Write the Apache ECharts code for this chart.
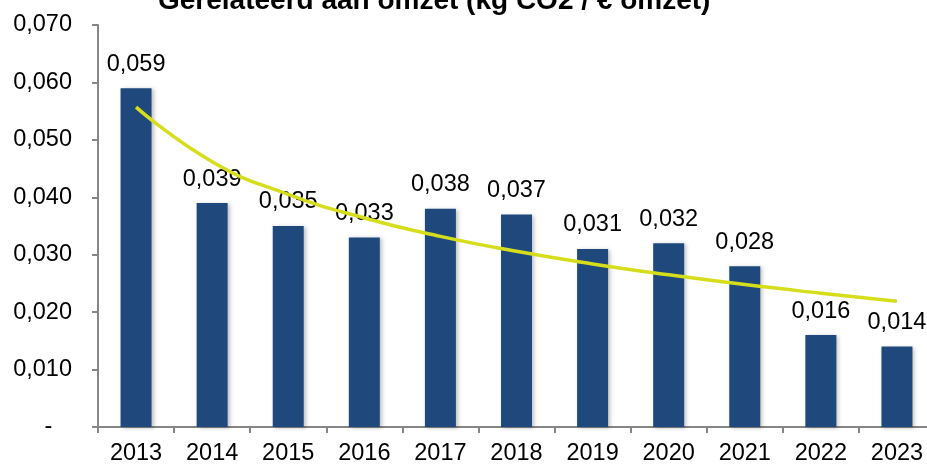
<!DOCTYPE html>
<html>
<head>
<meta charset="utf-8">
<script src="https://cdn.jsdelivr.net/npm/echarts@6/dist/echarts.min.js"></script>
<style>
  html, body { margin: 0; padding: 0; background: #fff; }
  #chart { width: 927px; height: 464px; }
</style>
</head>
<body>
<div id="chart"></div>
<script>
// jaren en CO2-intensiteit (kg CO2 / € omzet)
const years = ['2013', '2014', '2015', '2016', '2017', '2018', '2019', '2020', '2021', '2022', '2023']
const intensity = [0.059, 0.039, 0.035, 0.033, 0.038, 0.037, 0.031, 0.032, 0.028, 0.016, 0.014]
// trendlijn
const trend = [0.0557, 0.0462, 0.0405, 0.0364, 0.0332, 0.0306, 0.0284, 0.0265, 0.0248, 0.0233, 0.0219]

const fmt = v => v.toFixed(3).replace('.', ',')
const font = 'Liberation Sans, Arial, sans-serif'

const chart = echarts.init(document.getElementById('chart'))
chart.setOption({
  animation: false,
  title: {
    text: 'Gerelateerd aan omzet (kg CO2 / € omzet)',
    left: 153,
    top: -18,
    textStyle: { fontFamily: font, fontSize: 28, fontWeight: 'bold', color: '#000' }
  },
  grid: { left: 98, width: 837, top: 25, bottom: 37, containLabel: false, outerBoundsMode: 'none' },
  xAxis: {
    type: 'category',
    data: years,
    axisLine: { lineStyle: { color: '#868686', width: 2 } },
    axisTick: { show: true, length: 6, lineStyle: { color: '#868686', width: 2 } },
    axisLabel: { fontFamily: font, fontSize: 23.5, color: '#000', margin: 15 }
  },
  yAxis: {
    type: 'value',
    min: 0,
    max: 0.07,
    interval: 0.01,
    splitLine: { show: false },
    axisLine: { show: true, lineStyle: { color: '#868686', width: 2 } },
    axisTick: { show: true, length: 6, lineStyle: { color: '#868686', width: 2 } },
    axisLabel: {
      fontFamily: font, fontSize: 23.5, color: '#000', margin: 26,
      formatter: v => v === 0 ? '-   ' : fmt(v)
    }
  },
  series: [
    {
      type: 'bar',
      data: intensity,
      barWidth: 31,
      itemStyle: {
        color: '#1F497D',
        shadowColor: 'rgba(0,0,0,0.25)',
        shadowBlur: 4,
        shadowOffsetX: 2,
        shadowOffsetY: 1
      },
      label: {
        show: true,
        position: 'top',
        distance: 12,
        fontFamily: font,
        fontSize: 23.5,
        color: '#000',
        formatter: p => fmt(p.value)
      },
      z: 2
    },
    {
      type: 'line',
      data: trend,
      smooth: true,
      symbol: 'none',
      lineStyle: { color: '#D6DE1C', width: 3.5 },
      z: 3
    }
  ]
})
</script>
</body>
</html>
